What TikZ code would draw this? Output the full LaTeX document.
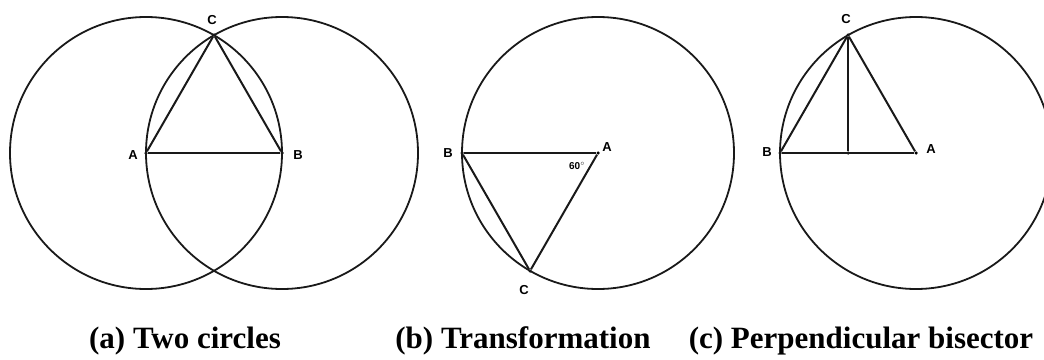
\documentclass[tikz,border=0pt]{standalone}
\usepackage{fontspec}
\setmainfont{Liberation Serif}
\setsansfont{Liberation Sans}

\begin{document}
\begin{tikzpicture}[
    x=1pt, y=-1pt,
    pt/.style={circle, fill=black, minimum size=3.5pt, inner sep=0pt},
    edge/.style={line width=2pt, draw=black!90},
    ring/.style={line width=1.8pt, draw=black!90},
    lbl/.style={font=\sffamily\bfseries\fontsize{13}{13}\selectfont, inner sep=1pt},
    caption/.style={font=\bfseries\fontsize{31}{31}\selectfont, inner sep=0pt, anchor=base}
]
    \useasboundingbox (0,0) rectangle (1044,359);

    % ==================== (a) TWO CIRCLES ====================
    \node[pt] (aA) at (146,153) {};
    \node[pt] (aB) at (282,153) {};
    \node[pt] (aC) at (214,35) {};

    \draw[ring] (aA) circle[radius=136];
    \draw[ring] (aB) circle[radius=136];

    \draw[edge] (aA) -- (aB);
    \draw[edge] (aA) -- (aC);
    \draw[edge] (aB) -- (aC);

    \node[lbl] (aAl) at (133,155) {A};
    \node[lbl] (aBl) at (298,155) {B};
    \node[lbl] (aCl) at (212,20) {C};


    % ==================== (b) TRANSFORMATION ====================
    \node[pt] (bA) at (598,153) {};
    \node[pt] (bB) at (462,153) {};
    \node[pt] (bC) at (530,271) {};

    \draw[ring] (bA) circle[radius=136];

    \draw[edge] (bB) -- (bA);
    \draw[edge] (bA) -- (bC);
    \draw[edge] (bB) -- (bC);

    \node[lbl] (bAl) at (607,147) {A};
    \node[lbl] (bBl) at (448,153) {B};
    \node[lbl] (bCl) at (524,290) {C};
    \node[lbl, font=\sffamily\bfseries\fontsize{10}{10}\selectfont] (ang) at (577,166) {60$^{\circ}$};


    % ==================== (c) PERPENDICULAR BISECTOR ====================
    \node[pt] (cA) at (916,153) {};
    \node[pt] (cB) at (780,153) {};
    \node[pt] (cC) at (848,35) {};
    \node[pt] (cD) at (848,153) {};

    \draw[ring] (cA) circle[radius=136];

    \draw[edge] (cB) -- (cA);
    \draw[edge] (cB) -- (cC);
    \draw[edge] (cA) -- (cC);
    \draw[edge] (cC) -- (cD);

    \node[lbl] (cAl) at (931,149) {A};
    \node[lbl] (cBl) at (767,152) {B};
    \node[lbl] (cCl) at (846,19) {C};


    % ==================== CAPTIONS ====================
    \node[caption] (capa) at (185,348) {(a) Two circles};
    \node[caption] (capb) at (523,348) {(b) Transformation};
    \node[caption] (capc) at (861,348) {(c) Perpendicular bisector};

\end{tikzpicture}
\end{document}
